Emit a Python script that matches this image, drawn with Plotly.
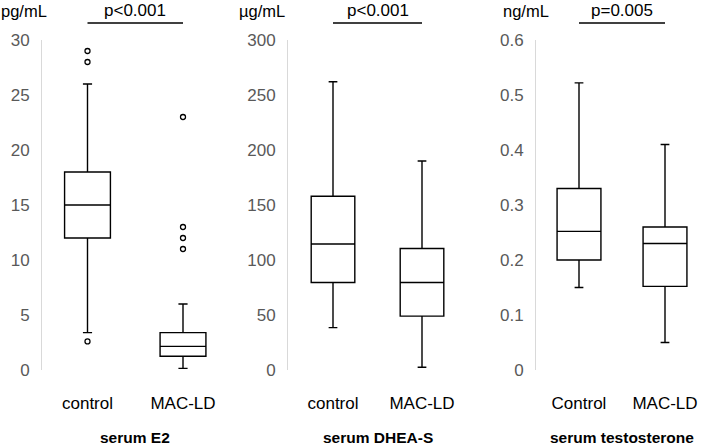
import plotly.graph_objects as go

W, H = 709, 448

# ---- data ----
e2_groups = ["control", "MAC-LD"]
e2_q1 = [12.0, 1.25]
e2_median = [15.0, 2.15]
e2_q3 = [18.0, 3.4]
e2_low = [3.4, 0.15]
e2_high = [26.0, 6.0]
e2_outlier_groups = ["control", "control", "control", "MAC-LD", "MAC-LD", "MAC-LD", "MAC-LD"]
e2_outliers = [29.0, 28.0, 2.6, 23.0, 13.0, 12.0, 11.0]

dhea_groups = ["control", "MAC-LD"]
dhea_q1 = [79.5, 49.0]
dhea_median = [114.5, 79.5]
dhea_q3 = [158.0, 110.5]
dhea_low = [38.5, 2.5]
dhea_high = [262.0, 190.0]

testo_groups = ["Control", "MAC-LD"]
testo_q1 = [0.20, 0.152]
testo_median = [0.252, 0.23]
testo_q3 = [0.33, 0.26]
testo_low = [0.15, 0.05]
testo_high = [0.522, 0.41]

units = ["pg/mL", "µg/mL", "ng/mL"]
pvalues = ["p<0.001", "p<0.001", "p=0.005"]
titles = ["serum E2", "serum DHEA-S", "serum testosterone"]
y_ranges = [[0, 30], [0, 300], [0, 0.6]]
y_dticks = [5, 50, 0.1]

FONT = "Liberation Sans, Arial, sans-serif"

fig = go.Figure()

panels = [
    (e2_groups, e2_q1, e2_median, e2_q3, e2_low, e2_high),
    (dhea_groups, dhea_q1, dhea_median, dhea_q3, dhea_low, dhea_high),
    (testo_groups, testo_q1, testo_median, testo_q3, testo_low, testo_high),
]

# pixel layout of each panel: (axis-left px, right px, first center px, spacing px, box width units)
geom = [
    (42, 231, 87.5, 95.5, 0.48),
    (288, 470, 333, 89, 0.49),
    (536, 709, 579, 86, 0.51),
]

ybot_px, ytop_px = 370, 40
ydom = [(H - ybot_px) / H, (H - ytop_px) / H]

for i, (g, q1, med, q3, lo, hi) in enumerate(panels):
    ax = "" if i == 0 else str(i + 1)
    fig.add_trace(go.Box(
        x=g, q1=q1, median=med, q3=q3, lowerfence=lo, upperfence=hi,
        xaxis="x" + ax, yaxis="y" + ax,
        fillcolor="white", line=dict(color="black", width=1.4),
        whiskerwidth=0.2, width=geom[i][4], boxpoints=False,
        showlegend=False, hoverinfo="skip",
    ))

fig.add_trace(go.Scatter(
    x=e2_outlier_groups, y=e2_outliers, mode="markers", xaxis="x", yaxis="y",
    marker=dict(symbol="circle-open", size=5, color="black", line=dict(width=1.3)),
    showlegend=False, hoverinfo="skip",
))

layout = dict(
    width=W, height=H, margin=dict(l=0, r=0, t=0, b=0),
    paper_bgcolor="white", plot_bgcolor="white",
    font=dict(family=FONT, color="black"),
    annotations=[], shapes=[],
)

for i in range(3):
    ax = "" if i == 0 else str(i + 1)
    left, right, c0, sp, _ = geom[i]
    layout["xaxis" + ax] = dict(
        domain=[left / W, right / W], anchor="y" + ax, automargin=False,
        type="category", range=[(left - c0) / sp, (right - c0) / sp],
        showline=False, showgrid=False, zeroline=False, ticks="",
        tickfont=dict(size=17, color="black", family=FONT),
        ticklabelstandoff=21,
    )
    layout["yaxis" + ax] = dict(
        domain=ydom, anchor="x" + ax, range=y_ranges[i], dtick=y_dticks[i],
        automargin=False,
        showline=True, linecolor="#d9d9d9", linewidth=1,
        showgrid=False, zeroline=False, ticks="",
        tickfont=dict(size=17, color="#595959", family=FONT),
        ticklabelstandoff=8,
    )
    # p-value bar
    layout["shapes"].append(dict(
        type="line", xref="x" + ax, yref="paper", x0=0, x1=1,
        y0=(H - 23) / H, y1=(H - 23) / H, line=dict(color="black", width=1.4),
    ))
    layout["annotations"].append(dict(
        text=pvalues[i], xref="x" + ax, yref="paper", x=0.5, y=(H - 10) / H,
        showarrow=False, font=dict(size=17, color="black"), xanchor="center", yanchor="middle",
    ))
    layout["annotations"].append(dict(
        text="<b>" + titles[i] + "</b>", xref="x" + ax, yref="paper", x=0.5, y=0,
        showarrow=False, font=dict(size=15.5, color="black"), xanchor="center", yanchor="bottom",
    ))

unit_x = [-1, 237, 501]
for i in range(3):
    layout["annotations"].append(dict(
        text=units[i], xref="paper", yref="paper", x=unit_x[i] / W, y=(H - 11) / H,
        showarrow=False, font=dict(size=16.5, color="black"), xanchor="left", yanchor="middle",
    ))

fig.update_layout(**layout)
fig.write_html(
    "out.html",
    config={"displayModeBar": False, "staticPlot": True},
    post_script="document.body.style.margin='0';document.body.style.padding='0';document.body.style.overflow='hidden';",
)
